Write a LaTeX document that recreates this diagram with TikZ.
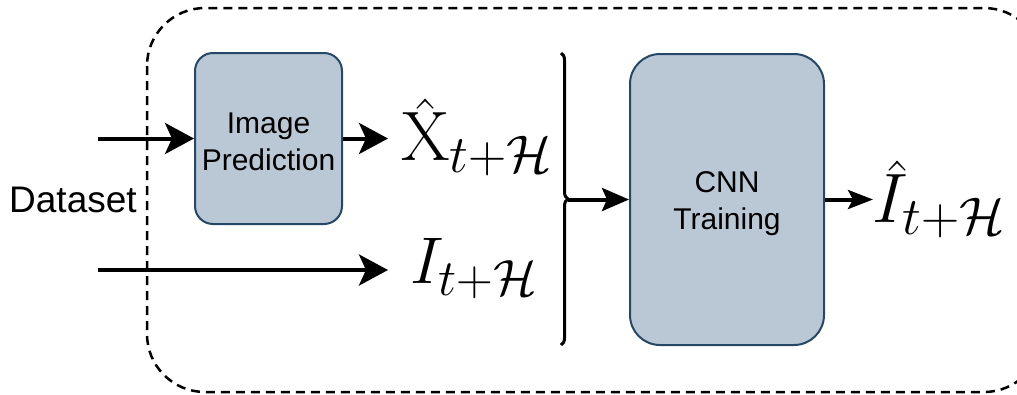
\RequirePackage{fix-cm}
\documentclass[tikz,border=0pt]{standalone}
\usepackage{fontspec}
\newfontfamily\labelfont{Liberation Sans}
\usetikzlibrary{arrows.meta,decorations.pathreplacing}
\definecolor{boxfill}{RGB}{185,200,212}
\definecolor{boxline}{RGB}{38,72,104}
% larger subscripts for the big symbol labels
\DeclareMathSizes{70}{70}{53}{42}
\DeclareMathSizes{66}{66}{51}{40}
% hat accent set a little closer to its letter (optional shift for slanted letters)
\newcommand{\nearhat}[2][0em]{\rlap{\kern#1\raisebox{-0.07em}{$\hat{\phantom{#2}}$}}#2}
\tikzset{
  block/.style={draw=boxline, fill=boxfill, line width=2pt, inner sep=0pt},
  blocktext/.style={align=center, inner sep=0pt, font=\labelfont\fontsize{30}{37}\selectfont},
  flow/.style={line width=4pt, -{Stealth[length=29pt,width=31pt,inset=7pt]}},
  flowsmall/.style={line width=4pt, -{Stealth[length=27pt,width=23pt,inset=5pt]}},
  mathlabel/.style={inner sep=0pt, anchor=base west},
  frame/.style={line width=2.5pt, dash pattern=on 9pt off 6pt, rounded corners=58pt},
}
\begin{document}
\begin{tikzpicture}[x=1pt,y=-1pt]
\useasboundingbox (0,0) rectangle (1017,394);

% dashed enclosure, running past the right edge
\begin{scope}
  \clip (0,0) rectangle (1017,394);
  \draw[frame] (147,8) rectangle (1042,392);
\end{scope}

% processing blocks
\node[block, minimum width=147pt, minimum height=171pt, rounded corners=18pt]
  (pred) at (268.5,138.5) {};
\node[blocktext] (predtext) at ([yshift=-3pt]pred.center) {Image\\Prediction};
\node[block, minimum width=194pt, minimum height=291pt, rounded corners=30pt]
  (cnn) at (727,199.5) {};
\node[blocktext] (cnntext) at ([yshift=-4pt]cnn.center) {CNN\\Training};

% labels
\node[anchor=base west, inner sep=0pt, font=\labelfont\fontsize{37}{40}\selectfont]
  (data) at (9,212) {Dataset};
\node[mathlabel, font=\fontsize{70}{72}\selectfont] (xhat) at (401,160)
  {$\nearhat{\mathrm{X}}_{t+\mathcal{H}}$};
\node[mathlabel, font=\fontsize{66}{68}\selectfont] (ilab) at (410,283)
  {$I_{t+\mathcal{H}}$};
\node[mathlabel, font=\fontsize{70}{72}\selectfont] (ihat) at (872,222)
  {$\nearhat[0.1em]{I}_{t+\mathcal{H}}$};

% inputs
\coordinate (in1) at (98,138.5);
\coordinate (in2) at (98,270);
\draw[flow] (in1) -- (pred.west);
\draw[flow] (pred.east) -- ([xshift=-13pt]pred.east -| xhat.west);
\draw[flow] (in2) -- ([xshift=-22pt]in2 -| ilab.west);

% brace collecting both signals
\coordinate (btop) at (561,53);
\coordinate (bbot) at (561,345);
\coordinate (btip) at (568,199.5);
\draw[line width=3pt, decorate, decoration={brace, amplitude=7pt}] (btop) -- (bbot);
\draw[flowsmall] (btip) -- (cnn.west);

% output
\draw[flowsmall, -{Stealth[length=25pt,width=19pt,inset=5pt]}]
  (cnn.east) -- ([xshift=1pt]cnn.east -| ihat.west);
\end{tikzpicture}
\end{document}
